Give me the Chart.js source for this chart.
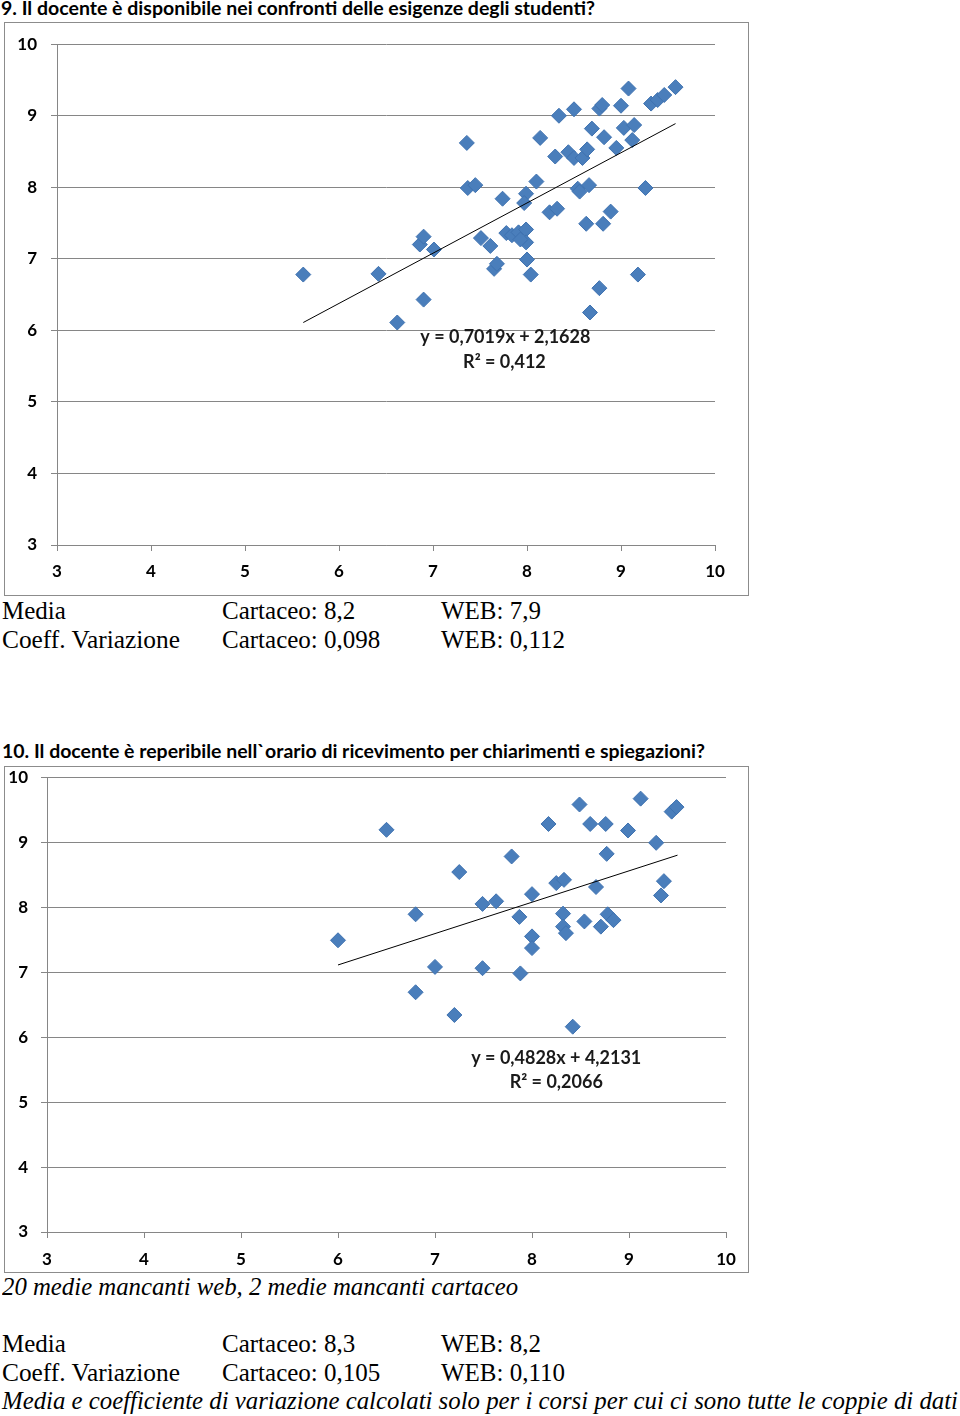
<!DOCTYPE html>
<html>
<head>
<meta charset="utf-8">
<script src="https://cdn.jsdelivr.net/npm/chart.js@4.4.0/dist/chart.umd.min.js"></script>
<style>
  html, body { margin: 0; padding: 0; background: #fff; }
  #page { position: relative; width: 960px; height: 1416px; overflow: hidden; }
  .t { position: absolute; white-space: nowrap; line-height: 1; transform-origin: 0 0; color: #000; }
  .title { font-family: Lato, "Open Sans", sans-serif; font-weight: bold; font-size: 18px; }
  .serif { font-family: "Liberation Serif", "Times New Roman", serif; font-size: 25px; }
  .it { font-style: italic; }
  .box { position: absolute; border: 1px solid #8c8c8c; box-sizing: border-box; }
  canvas { position: absolute; }
</style>
</head>
<body>
<div id="page">
  <div class="t title" data-w="594" style="left:1px; top:-1px;">9. Il docente è disponibile nei confronti delle esigenze degli studenti?</div>
  <div class="box" style="left:4px; top:22px; width:745px; height:574px;"></div>
  <canvas id="chart9" width="743" height="575" style="left:5px; top:20px;"></canvas>
  <div class="t serif" style="left:2px; top:598px;">Media</div>
  <div class="t serif" style="left:222px; top:598px;">Cartaceo: 8,2</div>
  <div class="t serif" style="left:441px; top:598px;">WEB: 7,9</div>
  <div class="t serif" data-w="178" style="left:2px; top:627px;">Coeff. Variazione</div>
  <div class="t serif" style="left:222px; top:627px;">Cartaceo: 0,098</div>
  <div class="t serif" style="left:441px; top:627px;">WEB: 0,112</div>

  <div class="t title" data-w="703" style="left:2px; top:742px;">10. Il docente è reperibile nell`orario di ricevimento per chiarimenti e spiegazioni?</div>
  <div class="box" style="left:4px; top:766px; width:745px; height:507px;"></div>
  <canvas id="chart10" width="743" height="518" style="left:5px; top:754px;"></canvas>
  <div class="t serif it" data-w="516" style="left:2px; top:1274px;">20 medie mancanti web, 2 medie mancanti cartaceo</div>
  <div class="t serif" style="left:2px; top:1331px;">Media</div>
  <div class="t serif" style="left:222px; top:1331px;">Cartaceo: 8,3</div>
  <div class="t serif" style="left:441px; top:1331px;">WEB: 8,2</div>
  <div class="t serif" data-w="178" style="left:2px; top:1360px;">Coeff. Variazione</div>
  <div class="t serif" style="left:222px; top:1360px;">Cartaceo: 0,105</div>
  <div class="t serif" style="left:441px; top:1360px;">WEB: 0,110</div>
  <div class="t serif it" data-w="956" style="left:2px; top:1388px;">Media e coefficiente di variazione calcolati solo per i corsi per cui ci sono tutte le coppie di dati</div>
</div>

<script>
// question 9 - scatter values
const q9X = [5.62, 6.42, 6.62, 6.90, 6.86, 6.90, 7.01, 7.36, 7.37, 7.45, 7.51, 7.61, 7.65, 7.68, 7.74,
  7.78, 7.84, 7.91, 7.99, 7.99, 7.93, 8.00, 8.04, 7.99, 7.97, 8.10, 8.14, 8.24, 8.32, 8.30,
  8.34, 8.44, 8.50, 8.50, 8.59, 8.64, 8.54, 8.56, 8.66, 8.63, 8.69, 8.77, 8.80, 8.82, 8.81,
  8.77, 8.89, 8.67, 8.95, 9.00, 9.03, 9.08, 9.12, 9.14, 9.18, 9.26, 9.32, 9.39, 9.46, 9.58];
const q9Y = [6.78, 6.79, 6.11, 6.43, 7.20, 7.31, 7.13, 8.62, 7.99, 8.03, 7.29, 7.18, 6.86, 6.93, 7.84,
  7.36, 7.33, 7.37, 7.41, 7.23, 7.27, 6.99, 6.78, 7.91, 7.78, 8.08, 8.69, 7.65, 7.70, 8.43,
  9.00, 8.49, 8.41, 9.09, 8.41, 8.53, 7.98, 7.94, 8.03, 7.49, 8.82, 9.10, 9.15, 8.70, 7.49,
  6.59, 7.66, 6.25, 8.55, 9.14, 8.83, 9.38, 8.66, 8.87, 6.78, 7.99, 9.17, 9.22, 9.29, 9.40];
const q9TrendX = [5.62, 9.58];
const q9TrendY = [6.11, 8.89];
const q9Label = ["y = 0,7019x + 2,1628", "R² = 0,412"];

// question 10
const q10X = [6.00, 6.50, 6.80, 6.80, 7.00, 7.20, 7.25, 7.49, 7.49, 7.63, 7.79, 7.87, 7.88, 8.00, 8.00,
  8.00, 8.17, 8.25, 8.33, 8.32, 8.32, 8.35, 8.42, 8.49, 8.54, 8.60, 8.66, 8.71, 8.76, 8.77,
  8.78, 8.84, 8.99, 9.12, 9.28, 9.33, 9.36, 9.44, 9.49];
const q10Y = [7.49, 9.19, 7.89, 6.69, 7.08, 6.34, 8.54, 8.05, 7.06, 8.09, 8.78, 7.85, 6.98, 8.20, 7.55,
  7.37, 9.28, 8.37, 8.42, 7.90, 7.70, 7.60, 6.16, 9.58, 7.78, 9.28, 8.31, 7.70, 9.28, 8.82,
  7.89, 7.80, 9.18, 9.67, 8.99, 8.18, 8.40, 9.47, 9.54];
const q10TrendX = [6.00, 9.50];
const q10TrendY = [7.11, 8.80];
const q10Label = ["y = 0,4828x + 4,2131", "R² = 0,2066"];

const axisTicks = [3, 4, 5, 6, 7, 8, 9, 10];

const MARKER = '#4a7ebb';
const GRID = '#868686';
const TICK_FONT = { family: 'Lato, "Open Sans", sans-serif', weight: 'bold', size: 17 };

// draws the trendline equation inside the plot, like Excel does
const eqPlugin = {
  id: 'eqLabel',
  afterDatasetsDraw(chart, args, opts) {
    const ctx = chart.ctx;
    const xs = chart.scales.x, ys = chart.scales.y;
    ctx.save();
    ctx.font = 'bold 18px Lato, "Open Sans", sans-serif';
    ctx.fillStyle = '#1a1a1a';
    ctx.textAlign = 'center';
    ctx.textBaseline = 'middle';
    opts.lines.forEach((txt, i) => {
      const p = opts.at[i];
      ctx.fillText(txt, xs.getPixelForValue(p[0]), ys.getPixelForValue(p[1]));
    });
    ctx.restore();
  }
};

// note: chart.js adds half a label height + tick padding above the plot,
// so the canvas sits a bit higher than the frame drawn behind it
function makeChart(id, xs, ys, tx, ty, lines, at, lay) {
  const pts = xs.map((x, i) => ({ x: x, y: ys[i] }));
  const trend = tx.map((x, i) => ({ x: x, y: ty[i] }));
  return new Chart(document.getElementById(id), {
    type: 'scatter',
    data: {
      datasets: [
        {
          data: trend, showLine: true, borderColor: '#000', borderWidth: 1,
          pointRadius: 0, fill: false
        },
        {
          data: pts, pointStyle: 'rectRot', pointRadius: 7.5,
          backgroundColor: MARKER, borderColor: '#3f72b0', borderWidth: 1
        }
      ]
    },
    options: {
      responsive: false,
      animation: false,
      devicePixelRatio: 1,
      layout: { autoPadding: false, padding: { left: 0, right: lay.right, top: 0, bottom: 0 } },
      plugins: {
        legend: { display: false },
        tooltip: { enabled: false },
        eqLabel: { lines: lines, at: at }
      },
      scales: {
        x: {
          type: 'linear', min: 3, max: 10,
          afterBuildTicks: s => { s.ticks = axisTicks.map(v => ({ value: v })); },
          afterFit: s => { s.height = lay.xh; },
          ticks: { color: '#000', font: TICK_FONT, padding: lay.xpad, maxRotation: 0 },
          grid: { drawOnChartArea: false, drawTicks: true, tickLength: 6, color: GRID },
          border: { display: true, color: GRID }
        },
        y: {
          type: 'linear', min: 3, max: 10,
          afterBuildTicks: s => { s.ticks = axisTicks.map(v => ({ value: v })); },
          afterFit: s => { s.width = lay.yw; },
          ticks: { color: '#000', font: TICK_FONT, padding: lay.ypad },
          grid: { drawOnChartArea: true, drawTicks: true, tickLength: 6, color: GRID },
          border: { display: true, color: GRID }
        }
      }
    },
    plugins: [eqPlugin]
  });
}

makeChart('chart9', q9X, q9Y, q9TrendX, q9TrendY, q9Label, [[7.77, 5.90], [7.76, 5.56]],
  { yw: 52, xh: 50, right: 33, xpad: 10, ypad: 14 });
makeChart('chart10', q10X, q10Y, q10TrendX, q10TrendY, q10Label, [[8.25, 5.68], [8.25, 5.30]],
  { yw: 42, xh: 40, right: 22, xpad: 11, ypad: 13 });

// squeeze/stretch a few lines to the width they have in the picture
document.querySelectorAll('[data-w]').forEach(el => {
  const w = +el.dataset.w;
  const real = el.getBoundingClientRect().width;
  if (real > 0) el.style.transform = 'scaleX(' + (w / real).toFixed(4) + ')';
});
</script>
</body>
</html>
